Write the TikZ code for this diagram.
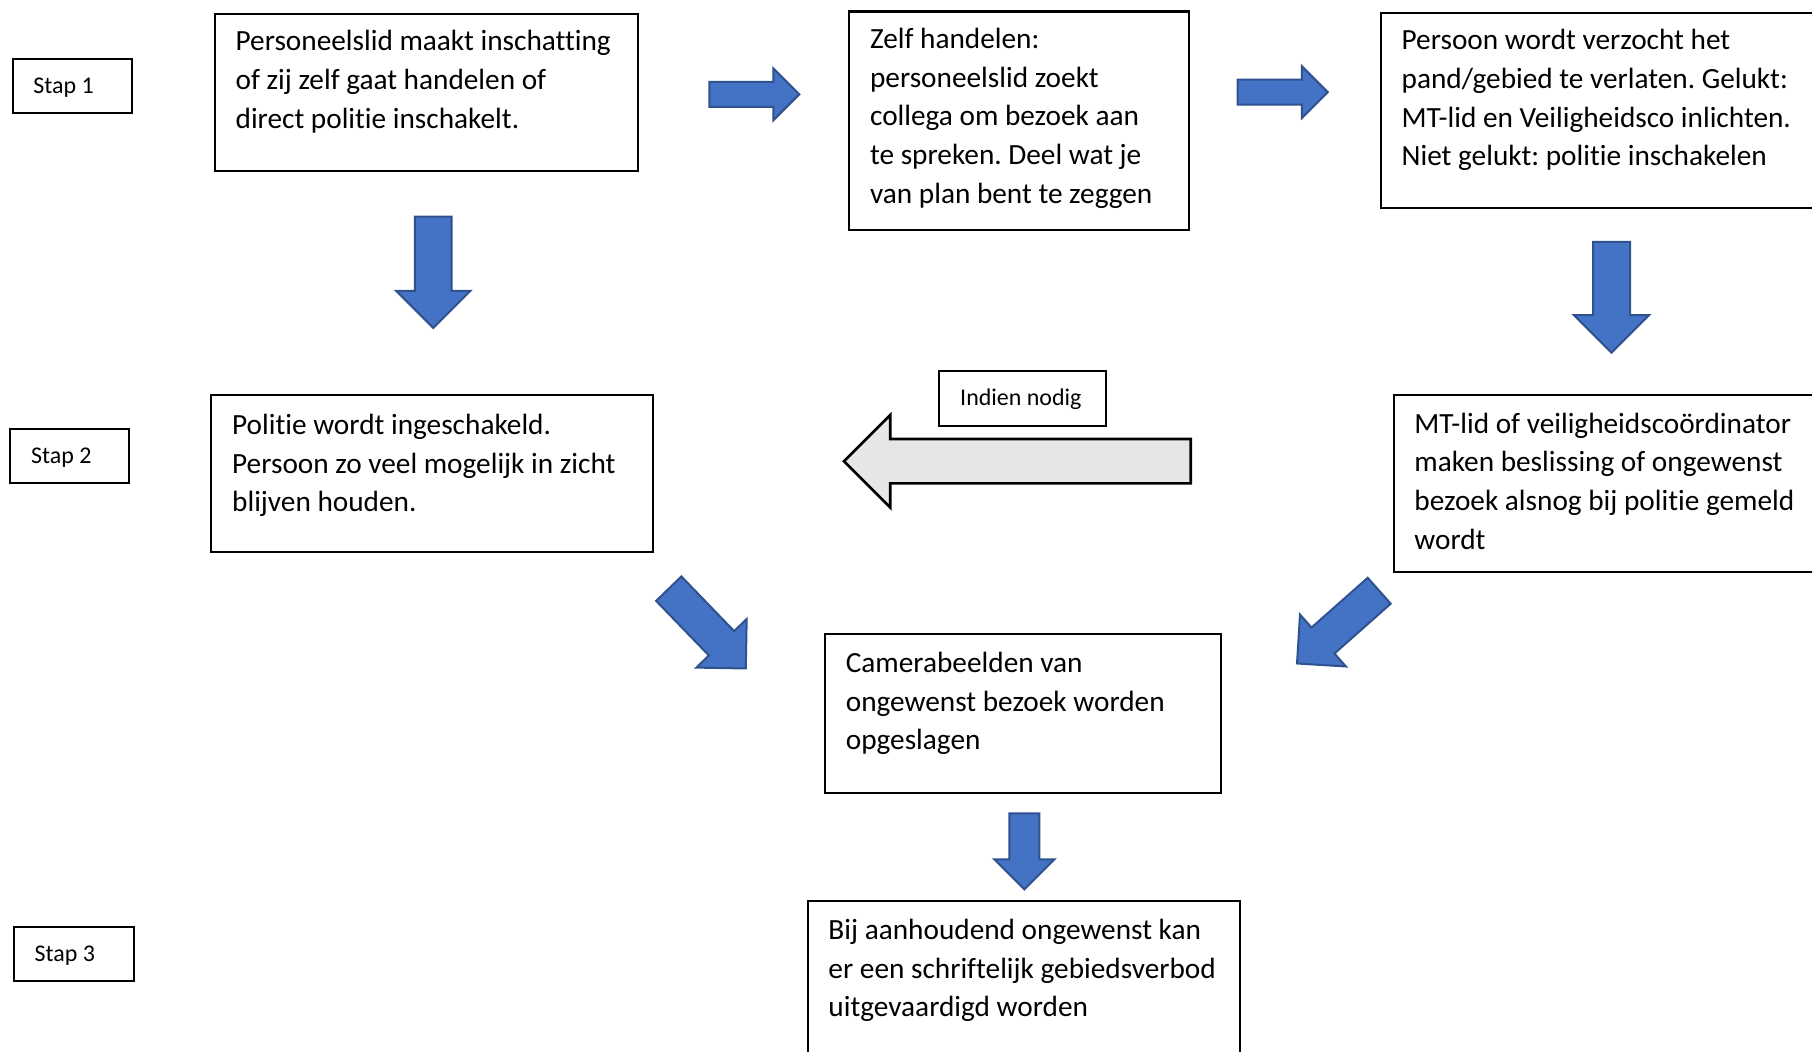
\documentclass[tikz,border=0pt]{standalone}
\usepackage{fontspec}
\setmainfont{Carlito}[Ligatures=NoCommon]
\usepackage{tikz}

\definecolor{pijlblauw}{HTML}{4472C4}
\definecolor{pijlrand}{HTML}{2F528F}
\definecolor{pijlgrijs}{HTML}{E7E6E6}

\newlength{\pxu}
\setlength{\pxu}{0.434pt}
\frenchspacing

% text in a box: width, height, first baseline, text
\newcommand{\vaktekst}[4]{\parbox[c][#2\pxu][t]{#1\pxu}{\raggedright\leftskip=18\pxu\parindent=0pt\rule{0pt}{#3\pxu}#4}}

% block arrow: style, tail, angle, length, shaft half width, head half width
\newcommand{\blokpijl}[6]{\draw[#1, shift={#2}, rotate=#3] (0,-#5) -- ({#4-#6},-#5) -- ({#4-#6},-#6) -- (#4,0) -- ({#4-#6},#6) -- ({#4-#6},#5) -- (0,#5) -- cycle;}

\tikzset{
  vak/.style={draw, line width=0.8pt, inner sep=0pt, anchor=north west, font=\fontsize{11pt}{14.54pt}\selectfont},
  stapvak/.style={vak, font=\fontsize{9pt}{11pt}\selectfont},
  blauwepijl/.style={fill=pijlblauw, draw=pijlrand, line width=0.75pt},
  grijzepijl/.style={fill=pijlgrijs, draw=black, line width=1pt}
}

\begin{document}
\begin{tikzpicture}[x=\pxu, y=-\pxu]
    \useasboundingbox (0,0) rectangle (1568,910);
    \clip (0,0) rectangle (1568,910);

    % Steps
    \node [stapvak] (stap1) at (10,50) {\vaktekst{103}{47}{30}{Stap 1}};
    \node [stapvak] (stap2) at (8,370) {\vaktekst{103}{47}{30}{Stap 2}};
    \node [stapvak] (stap3) at (11,801) {\vaktekst{104}{47}{30}{Stap 3}};

    % Boxes
    \node [vak] (inschatting) at (185,11) {\vaktekst{366}{136}{32}{Personeelslid maakt inschatting\\of zij zelf gaat handelen of\\direct politie inschakelt.}};
    \node [vak] (zelf) at (734,9) {\vaktekst{294}{189}{32}{Zelf handelen:\\personeelslid zoekt\\collega om bezoek aan\\te spreken. Deel wat je\\van plan bent te zeggen}};
    \node [vak] (verlaten) at (1194,10) {\vaktekst{420}{169}{32}{Persoon wordt verzocht het\\pand/gebied te verlaten. Gelukt:\\MT-lid en Veiligheidsco inlichten.\\Niet gelukt: politie inschakelen}};
    \node [vak] (politie) at (182,341) {\vaktekst{382}{136}{34}{Politie wordt ingeschakeld.\\Persoon zo veel mogelijk in zicht\\blijven houden.}};
    \node [vak] (beslissing) at (1205,341) {\vaktekst{420}{153}{33}{MT-lid of veiligheidscoördinator\\maken beslissing of ongewenst\\bezoek alsnog bij politie gemeld\\wordt}};
    \node [vak] (camera) at (713,548) {\vaktekst{343}{137}{33}{Camerabeelden van\\ongewenst bezoek worden\\opgeslagen}};
    \node [vak] (verbod) at (698,779) {\vaktekst{374}{200}{33}{Bij aanhoudend ongewenst kan\\er een schriftelijk gebiedsverbod\\uitgevaardigd worden}};
    \node [stapvak] (indien) at (812,320) {\vaktekst{144}{48}{30}{Indien nodig}};

    % Arrows
    \blokpijl{blauwepijl}{(613.8,81.6)}{0}{77.9}{10.8}{22.5}
    \blokpijl{blauwepijl}{(1071,79.8)}{0}{78}{10.8}{22.5}
    \blokpijl{blauwepijl}{(375,187.5)}{-90}{96.3}{15.9}{32}
    \blokpijl{blauwepijl}{(1394.5,209.2)}{-90}{96}{16}{32.5}
    \blokpijl{grijzepijl}{(1030.4,399.1)}{180}{300}{19.2}{40}
    \blokpijl{blauwepijl}{(578.7,509.4)}{-46}{96}{15.2}{30.3}
    \blokpijl{blauwepijl}{(1193.5,511.2)}{221.5}{95}{15}{30}
    \blokpijl{blauwepijl}{(886.4,703.8)}{-90}{65.8}{13}{26}
\end{tikzpicture}
\end{document}
